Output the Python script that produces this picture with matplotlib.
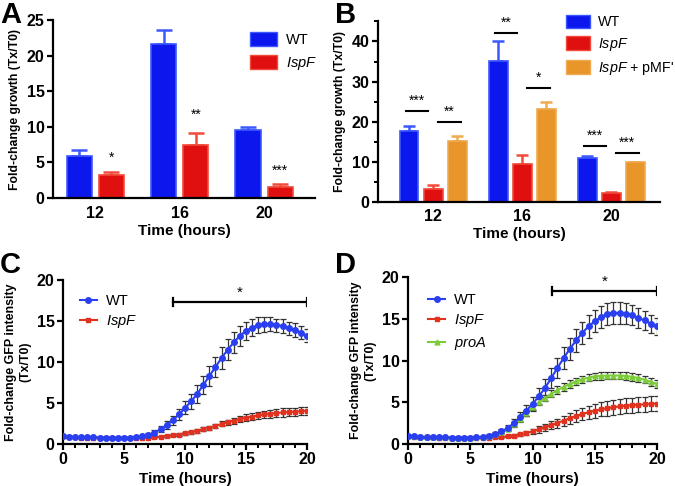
import matplotlib
matplotlib.use("Agg")
import matplotlib.pyplot as plt
import numpy as np
from matplotlib.patches import Patch
from matplotlib.lines import Line2D

plt.rcParams['font.family'] = ['Liberation Sans', 'DejaVu Sans']
plt.rcParams['mathtext.fontset'] = 'custom'
plt.rcParams['mathtext.rm'] = 'Liberation Sans'
plt.rcParams['mathtext.it'] = 'Liberation Sans:italic'
plt.rcParams['axes.linewidth'] = 1.6

BLUE, BLUE_E = '#0c17ee', '#3b58ff'
RED, RED_E = '#e01010', '#f24a3a'
ORANGE, ORANGE_E = '#e8962a', '#f0aa50'
LBLUE, LRED, LGREEN = '#2a40f0', '#e0321e', '#7ccc3a'

# ---- panel A / B data ----
groups = ['12', '16', '20']
a_wt = [5.9, 21.6, 9.5]
a_wt_err = [0.9, 2.0, 0.5]
a_ispf = [3.2, 7.4, 1.6]
a_ispf_err = [0.5, 1.8, 0.4]
a_stars = ['*', '**', '***']
a_star_y = [4.6, 10.7, 2.9]

b_wt = [17.8, 35.2, 11.0]
b_wt_err = [1.2, 5.0, 0.5]
b_ispf = [3.3, 9.4, 2.3]
b_ispf_err = [0.9, 2.3, 0.3]
b_comp = [15.3, 23.3, 9.9]
b_comp_err = [1.1, 1.6, 0.2]
b_left_sig = ['***', '**', '***']
b_left_y = [22.6, 42.2, 14.0]
b_right_sig = ['**', '*', '***']
b_right_y = [19.9, 28.3, 12.2]

# ---- panel C / D data (every 0.5 h) ----
t = np.arange(0, 20.5, 0.5)
c_wt = [1.0, 0.9, 0.85, 0.8, 0.8, 0.8, 0.78, 0.77, 0.76, 0.76, 0.76, 0.78, 0.82, 0.92,
        1.1, 1.4, 1.8, 2.3, 2.9, 3.6, 4.4, 5.2, 6.1, 7.2, 8.3, 9.4, 10.5, 11.5, 12.4,
        13.2, 13.8, 14.2, 14.5, 14.6, 14.6, 14.5, 14.4, 14.1, 13.9, 13.6, 13.2]
c_wt_err = [0.1, 0.1, 0.1, 0.1, 0.1, 0.1, 0.1, 0.1, 0.1, 0.1, 0.1, 0.1, 0.1, 0.12,
            0.2, 0.25, 0.35, 0.45, 0.55, 0.65, 0.8, 0.9, 1.05, 1.15, 1.2, 1.25, 1.3, 1.3, 1.25,
            1.2, 1.1, 1.0, 0.95, 0.9, 0.85, 0.8, 0.8, 0.8, 0.8, 0.8, 0.8]
c_ispf = [0.95, 0.85, 0.8, 0.78, 0.78, 0.77, 0.76, 0.76, 0.75, 0.75, 0.75, 0.75, 0.75, 0.76,
          0.78, 0.82, 0.88, 0.95, 1.05, 1.15, 1.3, 1.45, 1.6, 1.8, 2.0, 2.2, 2.45, 2.65, 2.85,
          3.05, 3.2, 3.35, 3.5, 3.6, 3.7, 3.78, 3.85, 3.9, 3.95, 4.0, 4.05]
c_ispf_err = [0.05, 0.05, 0.05, 0.05, 0.05, 0.05, 0.05, 0.05, 0.05, 0.05, 0.05, 0.05, 0.05, 0.05,
              0.06, 0.07, 0.08, 0.1, 0.12, 0.14, 0.16, 0.18, 0.2, 0.22, 0.25, 0.27, 0.3, 0.32, 0.35,
              0.37, 0.4, 0.42, 0.44, 0.46, 0.47, 0.48, 0.5, 0.5, 0.5, 0.52, 0.52]

d_wt = [1.0, 0.9, 0.85, 0.8, 0.8, 0.78, 0.78, 0.77, 0.76, 0.76, 0.77, 0.8, 0.88, 1.0,
        1.2, 1.5, 1.9, 2.5, 3.2, 4.0, 4.8, 5.7, 6.7, 7.9, 9.1, 10.3, 11.4, 12.4, 13.3,
        14.1, 14.7, 15.2, 15.6, 15.7, 15.7, 15.6, 15.4, 15.1, 14.8, 14.4, 14.1]
d_wt_err = [0.1, 0.1, 0.1, 0.1, 0.1, 0.1, 0.1, 0.1, 0.1, 0.1, 0.1, 0.1, 0.12, 0.15,
            0.2, 0.3, 0.4, 0.5, 0.6, 0.7, 0.85, 0.95, 1.1, 1.2, 1.25, 1.3, 1.35, 1.35, 1.35,
            1.35, 1.3, 1.3, 1.3, 1.3, 1.3, 1.25, 1.2, 1.15, 1.1, 1.05, 1.0]
d_ispf = [0.95, 0.85, 0.8, 0.78, 0.78, 0.77, 0.76, 0.76, 0.75, 0.75, 0.75, 0.75, 0.75, 0.76,
          0.78, 0.82, 0.9, 1.0, 1.15, 1.3, 1.5, 1.75, 2.0, 2.25, 2.5, 2.8, 3.1, 3.35, 3.6,
          3.8, 4.0, 4.15, 4.3, 4.4, 4.5, 4.6, 4.65, 4.7, 4.75, 4.8, 4.85]
d_ispf_err = [0.05, 0.05, 0.05, 0.05, 0.05, 0.05, 0.05, 0.05, 0.05, 0.05, 0.05, 0.05, 0.05, 0.06,
              0.08, 0.1, 0.12, 0.15, 0.2, 0.25, 0.3, 0.38, 0.45, 0.5, 0.55, 0.6, 0.65, 0.7, 0.75,
              0.8, 0.85, 0.85, 0.9, 0.9, 0.9, 0.9, 0.9, 0.9, 0.9, 0.9, 0.9]
d_proa = [1.0, 0.9, 0.85, 0.8, 0.8, 0.78, 0.78, 0.77, 0.76, 0.76, 0.77, 0.8, 0.85, 0.95,
          1.15, 1.45, 1.85, 2.4, 3.0, 3.7, 4.4, 5.0, 5.5, 6.0, 6.45, 6.85, 7.2, 7.5, 7.75,
          7.95, 8.1, 8.15, 8.2, 8.2, 8.2, 8.15, 8.05, 7.9, 7.7, 7.45, 7.2]
d_proa_err = [0.05, 0.05, 0.05, 0.05, 0.05, 0.05, 0.05, 0.05, 0.05, 0.05, 0.05, 0.05, 0.06, 0.08,
              0.1, 0.12, 0.15, 0.2, 0.25, 0.3, 0.35, 0.38, 0.4, 0.42, 0.45, 0.45, 0.45, 0.45, 0.45,
              0.45, 0.45, 0.45, 0.45, 0.45, 0.45, 0.45, 0.45, 0.45, 0.45, 0.45, 0.45]


def style_axes(ax, size=11.5):
    for s in ('top', 'right'):
        ax.spines[s].set_visible(False)
    ax.tick_params(width=1.6, length=4, labelsize=size, pad=2)
    ax.tick_params(which='minor', width=1.4, length=3)
    for lab in ax.get_xticklabels() + ax.get_yticklabels():
        lab.set_fontweight('bold')


def bars(ax, x, vals, errs, fc, ec, w, cap):
    ax.bar(x, vals, w, color=fc, edgecolor=ec, linewidth=1.2, zorder=2)
    ax.errorbar(x, vals, yerr=[np.zeros(len(vals)), errs], fmt='none',
                ecolor=ec, elinewidth=1.8, capsize=cap, capthick=1.8, zorder=1)


fig = plt.figure(figsize=(6.75, 4.86), dpi=100)

# ---------------- A ----------------
axA = fig.add_axes([0.0785, 0.5926, 0.388, 0.366])
xg = np.arange(len(groups))
bars(axA, xg - 0.19, a_wt, a_wt_err, BLUE, BLUE_E, 0.3, 6)
bars(axA, xg + 0.19, a_ispf, a_ispf_err, RED, RED_E, 0.3, 6)
for i in range(len(groups)):
    axA.text(xg[i] + 0.19, a_star_y[i], a_stars[i], ha='center', va='bottom', fontsize=10)
axA.set_xlim(-0.5, 2.6)
axA.set_ylim(0, 25)
axA.set_yticks([0, 5, 10, 15, 20, 25])
axA.set_xticks(xg)
axA.set_xticklabels(groups)
axA.set_xlabel('Time (hours)', fontsize=11, fontweight='bold', labelpad=2)
axA.set_ylabel('Fold-change growth (Tx/T0)', fontsize=8.8, fontweight='bold', labelpad=4)
style_axes(axA)
axA.tick_params(axis='x', length=0, pad=6)
fig.legend(handles=[Patch(fc=BLUE, ec=BLUE_E, label='WT'),
                    Patch(fc=RED, ec=RED_E, label='$\\mathit{IspF}$')],
           loc='upper left', bbox_to_anchor=(0.37, 0.935), frameon=False, fontsize=10.5,
           handlelength=1.9, handleheight=1.1, labelspacing=0.55, handletextpad=0.6,
           borderaxespad=0, borderpad=0)

# ---------------- B ----------------
axB = fig.add_axes([0.56, 0.584, 0.418, 0.372])
bw = 0.21
bars(axB, xg - 0.27, b_wt, b_wt_err, BLUE, BLUE_E, bw, 4.5)
bars(axB, xg, b_ispf, b_ispf_err, RED, RED_E, bw, 4.5)
bars(axB, xg + 0.27, b_comp, b_comp_err, ORANGE, ORANGE_E, bw, 4.5)
for i in range(len(groups)):
    axB.plot([xg[i] - 0.31, xg[i] - 0.06], [b_left_y[i]] * 2, color='k', lw=1.5)
    axB.text(xg[i] - 0.185, b_left_y[i] + 0.8, b_left_sig[i], ha='center', va='bottom', fontsize=10)
    axB.plot([xg[i] + 0.05, xg[i] + 0.31], [b_right_y[i]] * 2, color='k', lw=1.5)
    axB.text(xg[i] + 0.18, b_right_y[i] + 0.8, b_right_sig[i], ha='center', va='bottom', fontsize=10)
axB.set_xlim(-0.62, 2.55)
axB.set_ylim(0, 45)
axB.set_yticks([0, 10, 20, 30, 40])
axB.set_yticks([5, 15, 25, 35, 45], minor=True)
axB.set_xticks(xg)
axB.set_xticklabels(groups)
axB.set_xlabel('Time (hours)', fontsize=11, fontweight='bold', labelpad=2)
axB.set_ylabel('Fold-change growth (Tx/T0)', fontsize=8.8, fontweight='bold', labelpad=4)
style_axes(axB)
axB.tick_params(axis='x', length=0, pad=5)
fig.legend(handles=[Patch(fc=BLUE, ec=BLUE_E, label='WT'),
                    Patch(fc=RED, ec=RED_E, label='$\\mathit{IspF}$'),
                    Patch(fc=ORANGE, ec=ORANGE_E, label="$\\mathit{IspF}$ + pMF'")],
           loc='upper left', bbox_to_anchor=(0.8385, 0.97), frameon=False, fontsize=10.3,
           handlelength=1.7, handleheight=1.1, labelspacing=0.47, handletextpad=0.55,
           borderaxespad=0, borderpad=0)

# ---------------- C ----------------
axC = fig.add_axes([0.0933, 0.0864, 0.3615, 0.3374])
axC.errorbar(t, c_ispf, yerr=c_ispf_err, fmt='none', ecolor='#333333', elinewidth=0.9,
             capsize=2.5, capthick=0.9, zorder=1)
axC.errorbar(t, c_wt, yerr=c_wt_err, fmt='none', ecolor='#333333', elinewidth=0.9,
             capsize=2.5, capthick=0.9, zorder=1)
axC.plot(t, c_ispf, color=LRED, marker='s', ms=3.5, lw=1.5, zorder=3)
axC.plot(t, c_wt, color=LBLUE, marker='o', ms=4, lw=1.5, zorder=4)
axC.plot([9, 20], [17.3, 17.3], color='k', lw=1.6)
for xx in (9, 20):
    axC.plot([xx, xx], [16.8, 17.8], color='k', lw=1.6)
axC.text(14.5, 17.6, '*', ha='center', va='bottom', fontsize=11)
axC.set_xlim(0, 20)
axC.set_ylim(0, 20)
axC.set_xticks([0, 5, 10, 15, 20])
axC.set_xticks(np.arange(0, 21, 1), minor=True)
axC.set_yticks([0, 5, 10, 15, 20])
axC.set_xlabel('Time (hours)', fontsize=11, fontweight='bold', labelpad=3)
axC.set_ylabel('Fold-change GFP intensity\n(Tx/T0)', fontsize=8.9, fontweight='bold', labelpad=4)
style_axes(axC)
fig.legend(handles=[Line2D([], [], color=LBLUE, marker='o', ms=4, lw=1.5, label='WT'),
                    Line2D([], [], color=LRED, marker='s', ms=3.5, lw=1.5, label='$\\mathit{IspF}$')],
           loc='upper left', bbox_to_anchor=(0.118, 1 - 294 / 486), frameon=False, fontsize=10.5,
           handlelength=1.2, labelspacing=0.37, handletextpad=0.6, borderaxespad=0, borderpad=0)

# ---------------- D ----------------
axD = fig.add_axes([0.6044, 0.0864, 0.369, 0.3436])
for vals, errs in ((d_ispf, d_ispf_err), (d_proa, d_proa_err), (d_wt, d_wt_err)):
    axD.errorbar(t, vals, yerr=errs, fmt='none', ecolor='#333333', elinewidth=0.9,
                 capsize=2.5, capthick=0.9, zorder=1)
axD.plot(t, d_ispf, color=LRED, marker='s', ms=3.5, lw=1.5, zorder=3)
axD.plot(t, d_proa, color=LGREEN, marker='^', ms=3.5, lw=1.5, zorder=3)
axD.plot(t, d_wt, color=LBLUE, marker='o', ms=4, lw=1.5, zorder=4)
axD.plot([11.6, 20], [18.3, 18.3], color='k', lw=1.6)
for xx in (11.6, 20):
    axD.plot([xx, xx], [17.8, 18.8], color='k', lw=1.6)
axD.text(15.8, 18.6, '*', ha='center', va='bottom', fontsize=11)
axD.set_xlim(0, 20)
axD.set_ylim(0, 20)
axD.set_xticks([0, 5, 10, 15, 20])
axD.set_xticks(np.arange(0, 21, 1), minor=True)
axD.set_yticks([0, 5, 10, 15, 20])
axD.set_xlabel('Time (hours)', fontsize=11, fontweight='bold', labelpad=3)
axD.set_ylabel('Fold-change GFP intensity\n(Tx/T0)', fontsize=8.9, fontweight='bold', labelpad=4)
style_axes(axD)
fig.legend(handles=[Line2D([], [], color=LBLUE, marker='o', ms=4, lw=1.5, label='WT'),
                    Line2D([], [], color=LRED, marker='s', ms=3.5, lw=1.5, label='$\\mathit{IspF}$'),
                    Line2D([], [], color=LGREEN, marker='^', ms=3.5, lw=1.5, label='$\\mathit{proA}$')],
           loc='upper left', bbox_to_anchor=(0.634, 1 - 293 / 486), frameon=False, fontsize=10.5,
           handlelength=1.2, labelspacing=0.37, handletextpad=0.6, borderaxespad=0, borderpad=0)

# panel letters
for lbl, x, y in (('A', 0.0, 0.998), ('B', 0.497, 0.998), ('C', 0.0, 0.483), ('D', 0.497, 0.483)):
    fig.text(x, y, lbl, fontsize=21, fontweight='bold', ha='left', va='top')

fig.savefig('out.png', dpi=100)
